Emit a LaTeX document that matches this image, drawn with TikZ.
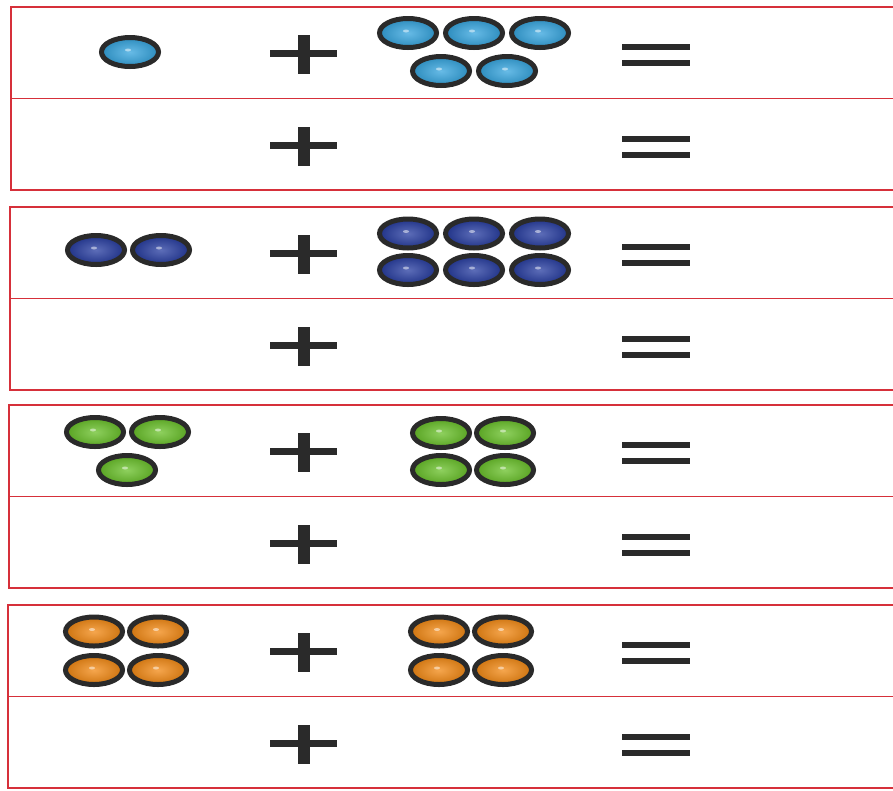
\documentclass[tikz,border=0pt]{standalone}
\usepackage{tikz}
\definecolor{lineRed}{RGB}{214,48,58}
\definecolor{rim}{RGB}{42,42,42}
\definecolor{skyBlue}{RGB}{52,164,222}
\definecolor{navyBlue}{RGB}{38,60,160}
\definecolor{leafGreen}{RGB}{104,192,40}
\definecolor{myorange}{RGB}{242,136,18}
\tikzset{
  bead/.style={draw=rim, line width=5pt, inner color=#1!75!white, outer color=#1!85!black},
  signbar/.style={fill=rim},
  frame/.style={draw=lineRed, line width=1.8pt}
}
\newcommand{\drawbead}[3]{%
  \draw[bead=#3] (#1,#2) ellipse (28.5pt and 14.5pt);
  \fill[white, opacity=.5] (#1-2,#2-2) ellipse (3pt and 1.5pt);}

\begin{document}
\begin{tikzpicture}[x=1pt, y=-1pt]
  \useasboundingbox (0,0) rectangle (893,790);
  \clip (0,0) rectangle (893,790);
  \fill[white] (0,0) rectangle (893,790);
  % frames, each block two rows
  \foreach \t/\l in {7/11, 207/10, 405/9, 605/8} {
    \draw[frame] (\l,\t) rectangle (905,\t+183);
    \draw[frame] (\l,\t+91.5) -- (905,\t+91.5);
    \foreach \r in {0,92} {
      % plus sign
      \fill[signbar] (270,\t+\r+43) rectangle (337,\t+\r+50);
      \fill[signbar] (298,\t+\r+28) rectangle (310,\t+\r+67);
      % equals sign
      \fill[signbar] (622,\t+\r+37) rectangle (690,\t+\r+43);
      \fill[signbar] (622,\t+\r+53) rectangle (690,\t+\r+59);
    }
  }
  % blue: 1 + 5
  \drawbead{130}{52}{skyBlue}
  \foreach \x/\y in {408/33, 474/33, 540/33, 441/71, 507/71}
    {\drawbead{\x}{\y}{skyBlue}}
  % navy: 2 + 6
  \foreach \x in {96,161}
    {\drawbead{\x}{250}{navyBlue}}
  \foreach \x in {408,474,540}
    \foreach \y in {233.5,270}
      {\drawbead{\x}{\y}{navyBlue}}
  % green: 3 + 4
  \foreach \x/\y in {95/432, 160/432, 127/470}
    {\drawbead{\x}{\y}{leafGreen}}
  \foreach \x in {441,505}
    \foreach \y in {433,470}
      {\drawbead{\x}{\y}{leafGreen}}
  % orange: 4 + 4
  \foreach \x in {94,158,439,503}
    \foreach \y in {631.5,670}
      {\drawbead{\x}{\y}{myorange}}
\end{tikzpicture}
\end{document}
